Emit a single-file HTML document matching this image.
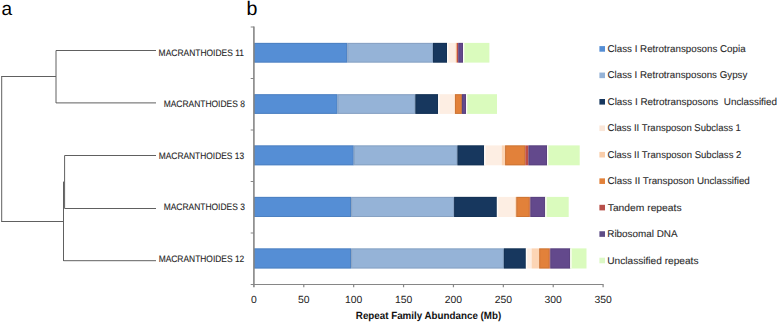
<!DOCTYPE html><html><head><meta charset="utf-8"><style>html,body{margin:0;padding:0;background:#fff;}svg{display:block;}text{font-family:"Liberation Sans",sans-serif;text-rendering:geometricPrecision;} .leg,.lab{stroke:#333;stroke-width:0.1px;paint-order:stroke;}</style></head><body>
<svg width="778" height="323" viewBox="0 0 778 323">
<rect width="778" height="323" fill="#fff"/>
<text x="1.4" y="14.9" font-size="19" fill="#000">a</text>
<text x="246.6" y="15" font-size="19.6" fill="#000">b</text>
<g stroke="#606060" stroke-width="1" fill="none">
<path d="M1.7 76.5 V221.5 M1.2 76.5 H56 M56 50.5 V103 M56 50.5 H156 M56 102.9 H156"/>
<path d="M1.2 221.5 H63.5 M63.5 181.6 V261 M63.5 260.7 H156 M64.6 155.5 V208.5 M64.6 155.5 H156 M64.6 208.5 H156"/>
</g>
<text class="lab" x="158.62" y="55.60" font-size="9.4" fill="#222" textLength="85.33" lengthAdjust="spacingAndGlyphs">MACRANTHOIDES 11</text>
<text class="lab" x="163.72" y="107.10" font-size="9.4" fill="#222" textLength="81.11" lengthAdjust="spacingAndGlyphs">MACRANTHOIDES 8</text>
<text class="lab" x="158.73" y="158.60" font-size="9.4" fill="#222" textLength="85.38" lengthAdjust="spacingAndGlyphs">MACRANTHOIDES 13</text>
<text class="lab" x="163.72" y="210.10" font-size="9.4" fill="#222" textLength="81.11" lengthAdjust="spacingAndGlyphs">MACRANTHOIDES 3</text>
<text class="lab" x="158.63" y="261.60" font-size="9.4" fill="#222" textLength="85.68" lengthAdjust="spacingAndGlyphs">MACRANTHOIDES 12</text>
<rect x="254.00" y="42.90" width="93.30" height="19.7" fill="#558ED5"/>
<rect x="254.50" y="43.40" width="92.30" height="18.7" fill="none" stroke="#4574AE" stroke-width="1" stroke-opacity="0.5"/>
<rect x="347.30" y="42.90" width="85.70" height="19.7" fill="#95B3D7"/>
<rect x="347.80" y="43.40" width="84.70" height="18.7" fill="none" stroke="#7A92B0" stroke-width="1" stroke-opacity="0.5"/>
<rect x="433.00" y="42.90" width="14.00" height="19.7" fill="#17375E"/>
<rect x="433.50" y="43.40" width="13.00" height="18.7" fill="none" stroke="#122D4D" stroke-width="1" stroke-opacity="0.5"/>
<rect x="447.00" y="42.90" width="8.50" height="19.7" fill="#FDEEE3"/>
<rect x="447.00" y="42.90" width="1.3" height="19.7" fill="#FFFCF9"/>
<rect x="455.50" y="42.90" width="1.00" height="19.7" fill="#FCD5B5"/>
<rect x="456.50" y="42.90" width="0.50" height="19.7" fill="#E2813A"/>
<rect x="457.00" y="42.90" width="1.30" height="19.7" fill="#BE4E45"/>
<rect x="458.30" y="42.90" width="4.70" height="19.7" fill="#63498C"/>
<rect x="458.80" y="43.40" width="3.70" height="18.7" fill="none" stroke="#513B72" stroke-width="1" stroke-opacity="0.5"/>
<rect x="463.00" y="42.90" width="26.40" height="19.7" fill="#DAFBBD"/>
<rect x="463.00" y="42.90" width="1.3" height="19.7" fill="#FFFCF9"/>
<rect x="254.00" y="94.20" width="83.50" height="19.7" fill="#558ED5"/>
<rect x="254.50" y="94.70" width="82.50" height="18.7" fill="none" stroke="#4574AE" stroke-width="1" stroke-opacity="0.5"/>
<rect x="337.50" y="94.20" width="77.90" height="19.7" fill="#95B3D7"/>
<rect x="338.00" y="94.70" width="76.90" height="18.7" fill="none" stroke="#7A92B0" stroke-width="1" stroke-opacity="0.5"/>
<rect x="415.40" y="94.20" width="22.80" height="19.7" fill="#17375E"/>
<rect x="415.90" y="94.70" width="21.80" height="18.7" fill="none" stroke="#122D4D" stroke-width="1" stroke-opacity="0.5"/>
<rect x="438.20" y="94.20" width="16.20" height="19.7" fill="#FDEEE3"/>
<rect x="438.20" y="94.20" width="1.3" height="19.7" fill="#FFFCF9"/>
<rect x="454.40" y="94.20" width="0.60" height="19.7" fill="#FCD5B5"/>
<rect x="455.00" y="94.20" width="6.90" height="19.7" fill="#E2813A"/>
<rect x="455.50" y="94.70" width="5.90" height="18.7" fill="none" stroke="#B9692F" stroke-width="1" stroke-opacity="0.5"/>
<rect x="461.90" y="94.20" width="4.10" height="19.7" fill="#63498C"/>
<rect x="462.40" y="94.70" width="3.10" height="18.7" fill="none" stroke="#513B72" stroke-width="1" stroke-opacity="0.5"/>
<rect x="466.00" y="94.20" width="31.00" height="19.7" fill="#DAFBBD"/>
<rect x="466.00" y="94.20" width="1.3" height="19.7" fill="#FFFCF9"/>
<rect x="254.00" y="145.40" width="99.70" height="19.9" fill="#558ED5"/>
<rect x="254.50" y="145.90" width="98.70" height="18.9" fill="none" stroke="#4574AE" stroke-width="1" stroke-opacity="0.5"/>
<rect x="353.70" y="145.40" width="103.80" height="19.9" fill="#95B3D7"/>
<rect x="354.20" y="145.90" width="102.80" height="18.9" fill="none" stroke="#7A92B0" stroke-width="1" stroke-opacity="0.5"/>
<rect x="457.50" y="145.40" width="26.70" height="19.9" fill="#17375E"/>
<rect x="458.00" y="145.90" width="25.70" height="18.9" fill="none" stroke="#122D4D" stroke-width="1" stroke-opacity="0.5"/>
<rect x="484.20" y="145.40" width="17.60" height="19.9" fill="#FDEEE3"/>
<rect x="484.20" y="145.40" width="1.3" height="19.9" fill="#FFFCF9"/>
<rect x="501.80" y="145.40" width="3.30" height="19.9" fill="#FCD5B5"/>
<rect x="505.10" y="145.40" width="20.20" height="19.9" fill="#E2813A"/>
<rect x="505.60" y="145.90" width="19.20" height="18.9" fill="none" stroke="#B9692F" stroke-width="1" stroke-opacity="0.5"/>
<rect x="525.30" y="145.40" width="3.20" height="19.9" fill="#BE4E45"/>
<rect x="528.50" y="145.40" width="18.50" height="19.9" fill="#63498C"/>
<rect x="529.00" y="145.90" width="17.50" height="18.9" fill="none" stroke="#513B72" stroke-width="1" stroke-opacity="0.5"/>
<rect x="547.00" y="145.40" width="32.70" height="19.9" fill="#DAFBBD"/>
<rect x="547.00" y="145.40" width="1.3" height="19.9" fill="#FFFCF9"/>
<rect x="254.00" y="196.90" width="97.10" height="20.1" fill="#558ED5"/>
<rect x="254.50" y="197.40" width="96.10" height="19.1" fill="none" stroke="#4574AE" stroke-width="1" stroke-opacity="0.5"/>
<rect x="351.10" y="196.90" width="103.00" height="20.1" fill="#95B3D7"/>
<rect x="351.60" y="197.40" width="102.00" height="19.1" fill="none" stroke="#7A92B0" stroke-width="1" stroke-opacity="0.5"/>
<rect x="454.10" y="196.90" width="42.80" height="20.1" fill="#17375E"/>
<rect x="454.60" y="197.40" width="41.80" height="19.1" fill="none" stroke="#122D4D" stroke-width="1" stroke-opacity="0.5"/>
<rect x="496.90" y="196.90" width="18.30" height="20.1" fill="#FDEEE3"/>
<rect x="496.90" y="196.90" width="1.3" height="20.1" fill="#FFFCF9"/>
<rect x="515.20" y="196.90" width="1.10" height="20.1" fill="#FCD5B5"/>
<rect x="516.30" y="196.90" width="13.40" height="20.1" fill="#E2813A"/>
<rect x="516.80" y="197.40" width="12.40" height="19.1" fill="none" stroke="#B9692F" stroke-width="1" stroke-opacity="0.5"/>
<rect x="529.70" y="196.90" width="0.70" height="20.1" fill="#BE4E45"/>
<rect x="530.40" y="196.90" width="14.90" height="20.1" fill="#63498C"/>
<rect x="530.90" y="197.40" width="13.90" height="19.1" fill="none" stroke="#513B72" stroke-width="1" stroke-opacity="0.5"/>
<rect x="545.30" y="196.90" width="23.40" height="20.1" fill="#DAFBBD"/>
<rect x="545.30" y="196.90" width="1.3" height="20.1" fill="#FFFCF9"/>
<rect x="254.00" y="248.40" width="97.10" height="20.1" fill="#558ED5"/>
<rect x="254.50" y="248.90" width="96.10" height="19.1" fill="none" stroke="#4574AE" stroke-width="1" stroke-opacity="0.5"/>
<rect x="351.10" y="248.40" width="152.80" height="20.1" fill="#95B3D7"/>
<rect x="351.60" y="248.90" width="151.80" height="19.1" fill="none" stroke="#7A92B0" stroke-width="1" stroke-opacity="0.5"/>
<rect x="503.90" y="248.40" width="22.00" height="20.1" fill="#17375E"/>
<rect x="504.40" y="248.90" width="21.00" height="19.1" fill="none" stroke="#122D4D" stroke-width="1" stroke-opacity="0.5"/>
<rect x="525.90" y="248.40" width="5.70" height="20.1" fill="#FDEEE3"/>
<rect x="525.90" y="248.40" width="1.3" height="20.1" fill="#FFFCF9"/>
<rect x="531.60" y="248.40" width="7.60" height="20.1" fill="#FCD5B5"/>
<rect x="539.20" y="248.40" width="10.40" height="20.1" fill="#E2813A"/>
<rect x="539.70" y="248.90" width="9.40" height="19.1" fill="none" stroke="#B9692F" stroke-width="1" stroke-opacity="0.5"/>
<rect x="549.60" y="248.40" width="0.70" height="20.1" fill="#BE4E45"/>
<rect x="550.30" y="248.40" width="20.00" height="20.1" fill="#63498C"/>
<rect x="550.80" y="248.90" width="19.00" height="19.1" fill="none" stroke="#513B72" stroke-width="1" stroke-opacity="0.5"/>
<rect x="570.30" y="248.40" width="16.20" height="20.1" fill="#DAFBBD"/>
<rect x="570.30" y="248.40" width="1.3" height="20.1" fill="#FFFCF9"/>
<g stroke="#868686" fill="none">
<path stroke-width="1.6" d="M253.9 26.5 V287.3"/>
<path stroke-width="1.2" d="M250.7 284.5 H603.6"/>
<path stroke-width="1.2" d="M250.7 27.00 H253.9 M250.7 78.50 H253.9 M250.7 130.00 H253.9 M250.7 181.50 H253.9 M250.7 233.00 H253.9 "/>
<path stroke-width="1.2" d="M303.79 284.5 V287.3 M353.67 284.5 V287.3 M403.56 284.5 V287.3 M453.44 284.5 V287.3 M503.33 284.5 V287.3 M553.22 284.5 V287.3 M603.10 284.5 V287.3 "/>
</g>
<text class="tk" x="253.90" y="302.8" font-size="10.4" fill="#222" text-anchor="middle">0</text>
<text class="tk" x="303.79" y="302.8" font-size="10.4" fill="#222" text-anchor="middle">50</text>
<text class="tk" x="353.67" y="302.8" font-size="10.4" fill="#222" text-anchor="middle">100</text>
<text class="tk" x="403.56" y="302.8" font-size="10.4" fill="#222" text-anchor="middle">150</text>
<text class="tk" x="453.44" y="302.8" font-size="10.4" fill="#222" text-anchor="middle">200</text>
<text class="tk" x="503.33" y="302.8" font-size="10.4" fill="#222" text-anchor="middle">250</text>
<text class="tk" x="553.22" y="302.8" font-size="10.4" fill="#222" text-anchor="middle">300</text>
<text class="tk" x="603.10" y="302.8" font-size="10.4" fill="#222" text-anchor="middle">350</text>
<text x="355.83" y="319.0" font-size="10.4" font-weight="bold" fill="#111" textLength="145.39" lengthAdjust="spacingAndGlyphs">Repeat Family Abundance (Mb)</text>
<rect x="599.4" y="46.10" width="5.6" height="5.6" fill="#558ED5"/>
<text class="leg" x="607.50" y="51.90" font-size="9.9" fill="#2a2a2a" textLength="138.12" lengthAdjust="spacingAndGlyphs">Class I Retrotransposons Copia</text>
<rect x="599.4" y="72.55" width="5.6" height="5.6" fill="#95B3D7"/>
<text class="leg" x="607.51" y="78.35" font-size="9.9" fill="#2a2a2a" textLength="139.85" lengthAdjust="spacingAndGlyphs">Class I Retrotransposons Gypsy</text>
<rect x="599.4" y="99.00" width="5.6" height="5.6" fill="#17375E"/>
<text class="leg" x="607.50" y="104.80" font-size="9.9" fill="#2a2a2a" textLength="169.49" lengthAdjust="spacingAndGlyphs">Class I Retrotransposons&#160; Unclassified</text>
<rect x="599.4" y="125.45" width="5.6" height="5.6" fill="#FAE6D8"/>
<text class="leg" x="607.52" y="131.25" font-size="9.9" fill="#2a2a2a" textLength="133.40" lengthAdjust="spacingAndGlyphs">Class II Transposon Subclass 1</text>
<rect x="599.4" y="151.90" width="5.6" height="5.6" fill="#F9CDAA"/>
<text class="leg" x="607.52" y="157.70" font-size="9.9" fill="#2a2a2a" textLength="133.90" lengthAdjust="spacingAndGlyphs">Class II Transposon Subclass 2</text>
<rect x="599.4" y="178.35" width="5.6" height="5.6" fill="#E2813A"/>
<text class="leg" x="607.50" y="184.15" font-size="9.9" fill="#2a2a2a" textLength="142.29" lengthAdjust="spacingAndGlyphs">Class II Transposon Unclassified</text>
<rect x="599.4" y="204.80" width="5.6" height="5.6" fill="#B8504A"/>
<text class="leg" x="607.74" y="210.60" font-size="9.9" fill="#2a2a2a" textLength="73.79" lengthAdjust="spacingAndGlyphs">Tandem repeats</text>
<rect x="599.4" y="231.25" width="5.6" height="5.6" fill="#5E4C86"/>
<text class="leg" x="607.25" y="237.05" font-size="9.9" fill="#2a2a2a" textLength="70.25" lengthAdjust="spacingAndGlyphs">Ribosomal DNA</text>
<rect x="599.4" y="257.70" width="5.6" height="5.6" fill="#DCF8C6"/>
<text class="leg" x="607.23" y="263.50" font-size="9.9" fill="#2a2a2a" textLength="91.25" lengthAdjust="spacingAndGlyphs">Unclassified repeats</text>
</svg></body></html>
